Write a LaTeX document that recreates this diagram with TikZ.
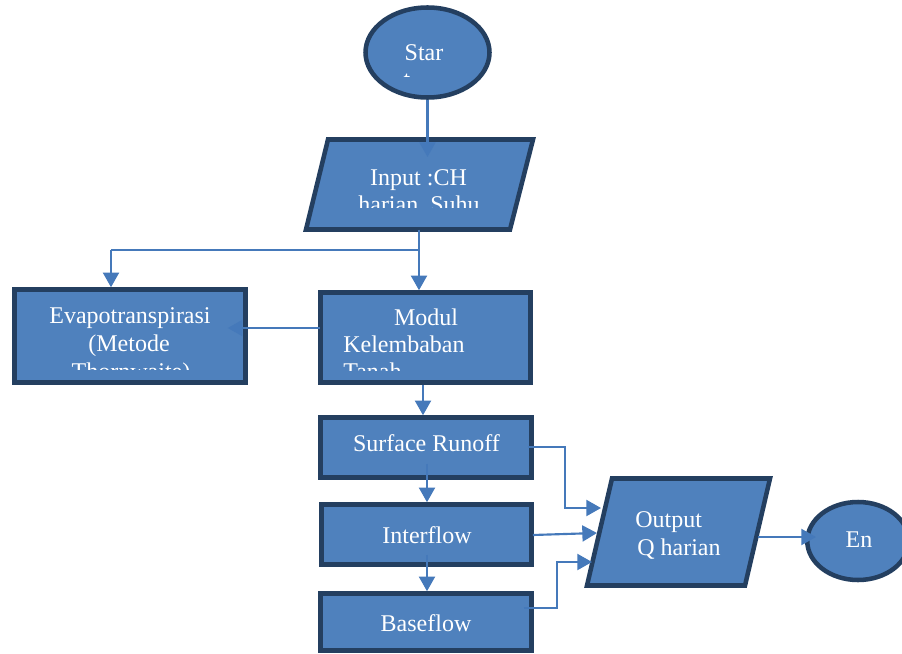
\documentclass[tikz,border=0pt]{standalone}
\usepackage{fontspec}
\setmainfont{Liberation Serif}
\usetikzlibrary{arrows.meta,calc,shapes.geometric}
\definecolor{fillb}{HTML}{4F81BD}
\definecolor{edgeb}{HTML}{243F60}
\definecolor{lineb}{HTML}{4579BA}
\def\uu{0.75pt}
\tikzset{
 shp/.style={draw=edgeb, fill=fillb, line width=3.4pt},
 boxn/.style={shp, rectangle, inner sep=0pt},
 ell/.style={shp, ellipse, inner sep=0pt},
 lbl/.style={text=white, font=\fontsize{18}{21}\selectfont, anchor=base, inner sep=0pt},
 lbll/.style={lbl, anchor=base west},
 seg/.style={draw=lineb, line width=1.6pt},
 conn/.style={seg, -{Triangle[length=11pt,width=12pt]}},
}
\begin{document}
\begin{tikzpicture}[x=0.75pt,y=-0.75pt]
\useasboundingbox (0,0) rectangle (902,653);
\fill[white] (0,0) rectangle (902,653);

% ---------- shapes ----------
\node[ell, minimum width=124*\uu, minimum height=90*\uu] (start) at (427.5,52.5) {};

\coordinate (i1) at (328,139.5);
\coordinate (i2) at (533,139.5);
\coordinate (i3) at (510,229.5);
\coordinate (i4) at (306,229.5);
\draw[shp] (i1) -- (i2) -- (i3) -- (i4) -- cycle;
\node[inner sep=0pt] (inp) at (419,184.5) {};

\node[boxn, minimum width=231*\uu, minimum height=93*\uu] (evap) at (130,336) {};
\node[boxn, minimum width=210*\uu, minimum height=90*\uu] (modul) at (425.5,337.5) {};
\node[boxn, minimum width=211*\uu, minimum height=60*\uu] (surf) at (426,447.5) {};
\node[boxn, minimum width=210*\uu, minimum height=60*\uu] (inter) at (426.5,534.5) {};
\node[boxn, minimum width=211*\uu, minimum height=57*\uu] (base) at (426,622) {};

\coordinate (o1) at (612,478.5);
\coordinate (o2) at (770,478.5);
\coordinate (o3) at (745,585.5);
\coordinate (o4) at (587,585.5);
\draw[shp] (o1) -- (o2) -- (o3) -- (o4) -- cycle;
\node[inner sep=0pt] (outp) at (678,532) {};

\node[ell, minimum width=101.5*\uu, minimum height=78*\uu] (fin) at (858,541) {};

% ---------- texts ----------
\node[lbl] (tstar) at (424,60) {Star};
\begin{scope}
\clip (370,10) rectangle (485,76);
\node[lbl] (tstar2) at (407,87) {t};
\end{scope}

\node[lbl] (tin1) at (418.5,185) {Input :CH};
\begin{scope}
\clip (306,141) rectangle (533,207);
\node[lbl] (tin2) at (419,212) {harian, Suhu};
\end{scope}

\node[lbl] (tev1) at (130,323) {Evapotranspirasi};
\node[lbl] (tev2) at (129,351) {(Metode};
\begin{scope}
\clip (17,292) rectangle (243,369.5);
\node[lbl] (tev3) at (131,379) {Thornwaite)};
\end{scope}

\node[lbl] (tmo1) at (426,325) {Modul};
\node[lbll] (tmo2) at (343,352) {Kelembaban};
\begin{scope}
\clip (323,295) rectangle (528,370);
\node[lbll] (tmo3) at (343,379) {Tanah};
\end{scope}

\node[lbl] (tsu) at (426.5,451) {Surface Runoff};
\node[lbl] (tint) at (427,543) {Interflow};
\node[lbl] (tba) at (426,631) {Baseflow};

\node[lbll] (tou1) at (635,527) {Output};
\node[lbll] (tou2) at (637,555) {Q harian};
\node[lbl] (ten) at (859,547) {En};

% ---------- connectors ----------
\coordinate (inTip) at (427.5,157);
\draw[conn] (start) -- (inTip);

\coordinate (inOut) at (419,229.5);
\coordinate (split) at (419,250);
\coordinate (splitL) at (111,250);
\draw[seg] (inOut) -- (split) -- (splitL);
\draw[conn] (splitL) -- (splitL |- evap.north);
\draw[conn] (split) -- (split |- modul.north);

\coordinate (mw) at ($(modul.west)+(2,-9.5)$);
\coordinate (et) at ($(evap.east)+(-20,0)$);
\draw[conn] (mw) -- (et |- mw);

\coordinate (ms) at ($(modul.south)+(-2.5,0)$);
\draw[conn] (ms) -- (ms |- surf.north);

\coordinate (ss) at ($(surf.south)+(1,-16)$);
\draw[conn] (ss) -- (ss |- inter.north);

\coordinate (is) at ($(inter.south)+(0.5,-12)$);
\draw[conn] (is) -- (is |- base.north);

\coordinate (se) at ($(surf.east)+(-6,-0.5)$);
\coordinate (oin1) at (601,508);
\draw[conn] (se) -- (565,447) |- (oin1);

\coordinate (ie) at ($(inter.east)+(-1,0.5)$);
\coordinate (oin2) at (597,533);
\draw[conn] (ie) -- (oin2);

\coordinate (be) at ($(base.east)+(-10,-14)$);
\coordinate (oin3) at (592,562);
\draw[conn] (be) -- (557,608) |- (oin3);

\coordinate (oe) at (758,537);
\coordinate (finTip) at (816,537);
\draw[conn] (oe) -- (finTip);
\end{tikzpicture}
\end{document}
